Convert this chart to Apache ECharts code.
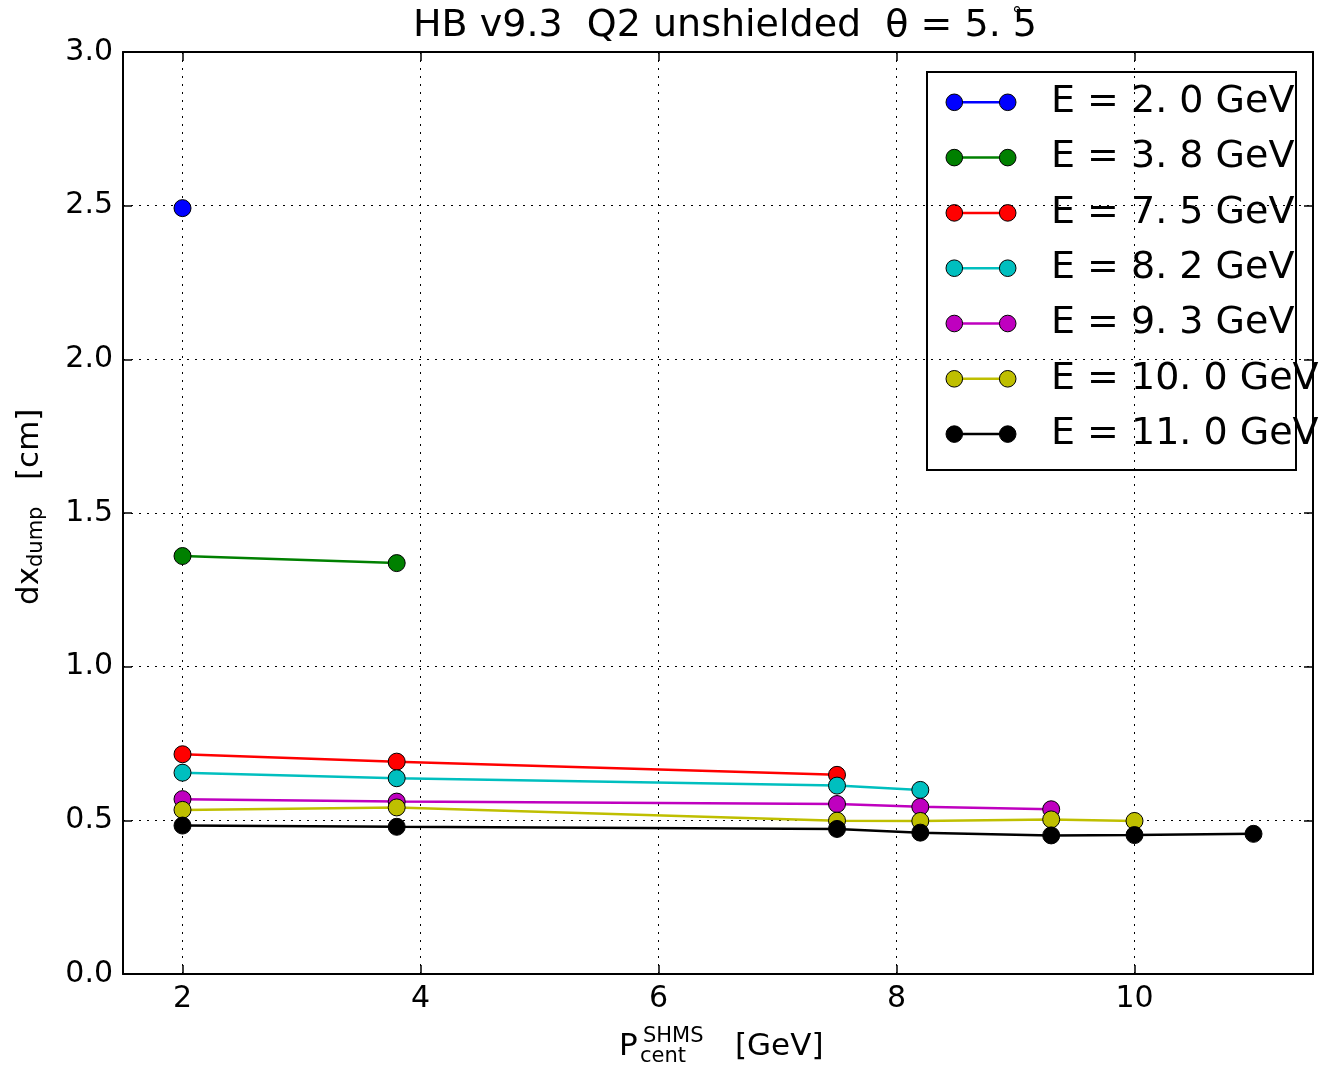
<!DOCTYPE html>
<html>
<head>
<meta charset="utf-8">
<script src="https://cdn.jsdelivr.net/npm/echarts@6/dist/echarts.min.js"></script>
<style>
html,body{margin:0;padding:0;background:#fff;}
#chart{width:1322px;height:1069px;}
</style>
</head>
<body>
<div id="chart"></div>
<script>
// ---- data ----
const pCent = [2, 3.8, 7.5, 8.2, 9.3, 10, 11];
const energyLabels = ['E = 2. 0 GeV', 'E = 3. 8 GeV', 'E = 7. 5 GeV', 'E = 8. 2 GeV', 'E = 9. 3 GeV', 'E = 10. 0 GeV', 'E = 11. 0 GeV'];
const dxE2_0 = [2.492];
const dxE3_8 = [1.360, 1.337];
const dxE7_5 = [0.715, 0.691, 0.648];
const dxE8_2 = [0.655, 0.637, 0.613, 0.599];
const dxE9_3 = [0.569, 0.561, 0.553, 0.544, 0.536];
const dxE10_0 = [0.534, 0.542, 0.499, 0.498, 0.503, 0.498];
const dxE11_0 = [0.483, 0.479, 0.472, 0.460, 0.451, 0.452, 0.456];
const xTickValues = [2, 4, 6, 8, 10];
const seriesColors = ['#0000ff', '#008000', '#ff0000', '#00bfbf', '#bf00bf', '#bfbf00', '#000000'];
const titleText = 'HB v9.3  Q2 unshielded  θ = 5. 5';

const allDx = [dxE2_0, dxE3_8, dxE7_5, dxE8_2, dxE9_3, dxE10_0, dxE11_0];
const FONT = '"DejaVu Sans", sans-serif';

const series = allDx.map((vals, i) => ({
  type: 'line',
  name: energyLabels[i],
  data: vals.map((v, j) => [pCent[j], v]),
  symbol: 'circle',
  symbolSize: 17,
  lineStyle: { color: seriesColors[i], width: 2.5 },
  itemStyle: { color: seriesColors[i], borderColor: '#000', borderWidth: 1 },
  emphasis: { disabled: true },
  z: 3 + i
}));

// legend drawn as graphic elements
const legendChildren = [];
energyLabels.forEach((lab, i) => {
  const y = 102.3 + 55.3 * i;
  legendChildren.push({ type: 'line', shape: { x1: 954, y1: y, x2: 1008, y2: y }, style: { stroke: seriesColors[i], lineWidth: 2.5 } });
  legendChildren.push({ type: 'circle', shape: { cx: 954.3, cy: y, r: 8.3 }, style: { fill: seriesColors[i], stroke: '#000', lineWidth: 1 } });
  legendChildren.push({ type: 'circle', shape: { cx: 1007.7, cy: y, r: 8.3 }, style: { fill: seriesColors[i], stroke: '#000', lineWidth: 1 } });
  legendChildren.push({ type: 'text', x: 1051, y: y, style: { text: lab, font: '38px ' + FONT, fill: '#000', verticalAlign: 'middle', align: 'left' } });
});
legendChildren.push({
  type: 'rect',
  shape: { x: 927, y: 72, width: 369, height: 398 },
  style: { fill: 'none', stroke: '#000', lineWidth: 2 }
});

const chart = echarts.init(document.getElementById('chart'), null, { renderer: 'canvas' });
chart.setOption({
  animation: false,
  backgroundColor: '#fff',
  title: {
    text: titleText,
    left: 408, top: 2,
    textStyle: { fontFamily: FONT, fontSize: 38, fontWeight: 'normal', color: '#000' }
  },
  grid: { left: 123, right: 9, top: 52, bottom: 95, containLabel: false },
  xAxis: [{
    type: 'value', min: 1.5, max: 11.5, position: 'bottom',
    axisLine: { show: true, onZero: false, lineStyle: { color: '#000', width: 2 } },
    axisTick: { show: true, inside: true, length: 9, customValues: xTickValues, lineStyle: { color: '#000', width: 1.5 } },
    axisLabel: { show: true, margin: 10, customValues: xTickValues, fontFamily: FONT, fontSize: 30, color: '#000' },
    splitLine: { show: true, lineStyle: { color: '#000', width: 1, type: [2, 6] } }
  }, {
    type: 'value', min: 1.5, max: 11.5, position: 'top',
    axisLine: { show: true, onZero: false, lineStyle: { color: '#000', width: 2 } },
    axisTick: { show: true, inside: true, length: 9, customValues: xTickValues, lineStyle: { color: '#000', width: 1.5 } },
    axisLabel: { show: false },
    splitLine: { show: false }
  }],
  yAxis: [{
    type: 'value', min: 0, max: 3, interval: 0.5, position: 'left',
    axisLine: { show: true, onZero: false, lineStyle: { color: '#000', width: 2 } },
    axisTick: { show: true, inside: true, length: 9, lineStyle: { color: '#000', width: 1.5 } },
    axisLabel: { show: true, margin: 10, formatter: v => v.toFixed(1), fontFamily: FONT, fontSize: 30, color: '#000' },
    splitLine: { show: true, lineStyle: { color: '#000', width: 1, type: [2, 6] } }
  }, {
    type: 'value', min: 0, max: 3, interval: 0.5, position: 'right',
    axisLine: { show: true, onZero: false, lineStyle: { color: '#000', width: 2 } },
    axisTick: { show: true, inside: true, length: 9, lineStyle: { color: '#000', width: 1.5 } },
    axisLabel: { show: false },
    splitLine: { show: false }
  }],
  series: series,
  graphic: [
    { type: 'text', x: 1012, y: 6, z: 100, style: { text: '°', font: '20px ' + FONT, fill: '#000' } },
    // x axis label
    { type: 'text', x: 619, y: 1047, style: { text: 'P', font: '31px ' + FONT, fill: '#000', verticalAlign: 'middle' } },
    { type: 'text', x: 643, y: 1037, style: { text: 'SHMS', font: '21px ' + FONT, fill: '#000', verticalAlign: 'middle' } },
    { type: 'text', x: 640, y: 1057, style: { text: 'cent', font: '21px ' + FONT, fill: '#000', verticalAlign: 'middle' } },
    { type: 'text', x: 735, y: 1047, style: { text: '[GeV]', font: '31px ' + FONT, fill: '#000', verticalAlign: 'middle' } },
    // y axis label (rotated)
    { type: 'group', x: 30, y: 605, rotation: Math.PI / 2, children: [
      { type: 'text', x: 0, y: 0, style: { text: 'dx', font: '31px ' + FONT, fill: '#000', verticalAlign: 'middle' } },
      { type: 'text', x: 38, y: 7, style: { text: 'dump', font: '21px ' + FONT, fill: '#000', verticalAlign: 'middle' } },
      { type: 'text', x: 125, y: 0, style: { text: '[cm]', font: '31px ' + FONT, fill: '#000', verticalAlign: 'middle' } }
    ]},
    { type: 'group', z: 50, children: [{
      type: 'rect', shape: { x: 927, y: 72, width: 369, height: 398 }, style: { fill: '#fff', stroke: 'none' }
    }].concat(legendChildren) }
  ]
});
</script>
</body>
</html>
